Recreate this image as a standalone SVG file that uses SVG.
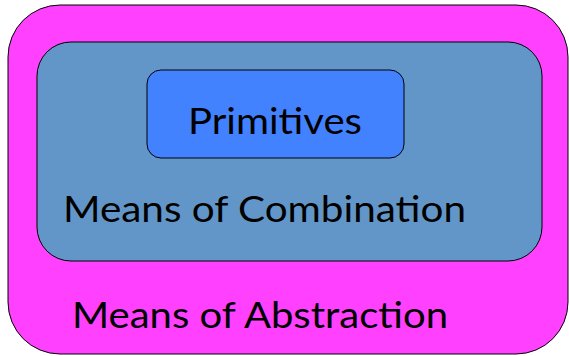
<svg xmlns="http://www.w3.org/2000/svg" width="569" height="356" viewBox="0 0 569 356">
<style>
.box{stroke:#000;stroke-width:1}
.lbl{font-family:Lato,"Open Sans","Liberation Sans",sans-serif;font-size:37.5px;fill:#000}
</style>
<rect width="569" height="356" fill="#fff"/>
<g id="abstraction">
<rect class="box" x="8" y="5" width="560" height="349" rx="52" ry="52" fill="#ff40ff"/>
<text class="lbl" x="72" y="328" textLength="376" lengthAdjust="spacingAndGlyphs">Means of Abstraction</text>
</g>
<g id="combination">
<rect class="box" x="37" y="42" width="505" height="219" rx="34" ry="34" fill="#6396c8"/>
<text class="lbl" x="63" y="222" textLength="403" lengthAdjust="spacingAndGlyphs">Means of Combination</text>
</g>
<g id="primitives">
<rect class="box" x="147" y="70" width="257" height="88" rx="14" ry="14" fill="#4282ff"/>
<text class="lbl" x="188" y="134" textLength="174" lengthAdjust="spacingAndGlyphs">Primitives</text>
</g>
<g id="connectors"></g>
</svg>
